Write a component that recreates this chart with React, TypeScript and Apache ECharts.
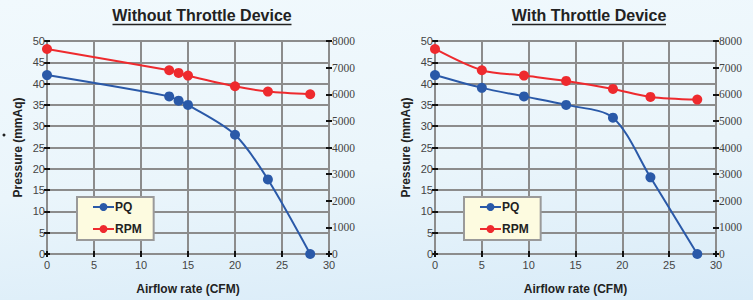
import React, { useEffect, useRef } from "react";
import * as echarts from "echarts";

const leftAirflow = [0, 13, 14, 15, 20, 23.5, 28];
const leftPQ = [42, 37, 36, 35, 28, 17.5, 0];
const leftRPM = [7700, 6900, 6800, 6700, 6300, 6100, 6000];

const rightAirflow = [0, 5, 9.5, 14, 19, 23, 28];
const rightPQ = [42, 39, 37, 35, 32, 18, 0];
const rightRPM = [7700, 6900, 6700, 6500, 6200, 5900, 5800];

const titles = ["Without Throttle Device", "With Throttle Device"];
const seriesNames = ["PQ", "RPM"];
const xName = "Airflow rate (CFM)";
const yName = "Pressure (mmAq)";

const BLUE = "#2a59a8";
const RED = "#ee2a2e";

export default function App() {
  const ref = useRef<HTMLDivElement>(null);
  useEffect(() => {
    document.body.style.margin = "0";
    const chart = echarts.init(ref.current!, null, { renderer: "svg" });
    const grids = [
      { left: 47, top: 41, width: 282, height: 216 },
      { left: 435, top: 41, width: 281, height: 216 },
    ];
    const gridLine = { show: true, lineStyle: { color: "#8c8c8c", width: 2 } };
    const xAxes = grids.map((_, i) => ({
      type: "value",
      gridIndex: i,
      min: 0,
      max: 30,
      interval: 5,
      offset: -3,
      name: xName,
      nameLocation: "middle",
      nameGap: 32,
      nameTextStyle: { fontFamily: "Liberation Sans", fontWeight: "bold", fontSize: 12, color: "#222" },
      axisLine: { show: false },
      axisTick: { show: true, length: 6, lineStyle: { color: "#111", width: 2 } },
      axisLabel: { margin: 8, lineHeight: 11, fontFamily: "Liberation Sans", fontSize: 11, color: "#444" },
      splitLine: gridLine,
    }));
    const yAxes: any[] = [];
    grids.forEach((_, i) => {
      yAxes.push({
        type: "value",
        gridIndex: i,
        position: "left",
        min: 0,
        max: 50,
        interval: 5,
        offset: -3,
        name: yName,
        nameLocation: "middle",
        nameRotate: 90,
        nameGap: 26,
        nameTextStyle: { fontFamily: "Liberation Sans", fontWeight: "bold", fontSize: 12, color: "#222" },
        axisLine: { show: false },
        axisTick: { show: true, length: 6, lineStyle: { color: "#111", width: 2 } },
        axisLabel: { margin: 5, fontFamily: "Liberation Sans", fontSize: 11, color: "#444" },
        splitLine: gridLine,
      });
      yAxes.push({
        type: "value",
        gridIndex: i,
        position: "right",
        min: 0,
        max: 8000,
        interval: 1000,
        offset: -3,
        axisLine: { show: false },
        axisTick: { show: true, length: 6, lineStyle: { color: "#111", width: 2 } },
        axisLabel: {
          margin: 6,
          lineHeight: 10,
          fontFamily: "Liberation Serif",
          fontSize: 11.5,
          color: "#444",
          formatter: (v: number) => String(v),
        },
        splitLine: { show: false },
      });
    });
    const mk = (name: string, xs: number[], ys: number[], xi: number, yi: number, color: string) => ({
      type: "line",
      name,
      xAxisIndex: xi,
      yAxisIndex: yi,
      data: xs.map((x, k) => [x, ys[k]]),
      smooth: 0.3,
      symbol: "circle",
      symbolSize: 10,
      itemStyle: { color },
      lineStyle: { color, width: 2 },
      z: 5,
    });
    const series = [
      mk(seriesNames[0], leftAirflow, leftPQ, 0, 0, BLUE),
      mk(seriesNames[1], leftAirflow, leftRPM, 0, 1, RED),
      mk(seriesNames[0], rightAirflow, rightPQ, 1, 2, BLUE),
      mk(seriesNames[1], rightAirflow, rightRPM, 1, 3, RED),
    ];
    const legendBase = {
      orient: "vertical",
      top: 197,
      backgroundColor: "#fdfbe0",
      borderColor: "#9a9a9a",
      borderWidth: 2,
      borderRadius: 0,
      padding: [4, 12, 5, 15],
      itemGap: 10,
      itemWidth: 21,
      itemHeight: 10,
      selectedMode: false,
      textStyle: { fontFamily: "Liberation Sans", fontWeight: "bold", fontSize: 12, color: "#222", padding: [0, 0, 0, -4] },
      data: seriesNames,
    };
    const titleCenters = [202, 589];
    const titleWidths = [179, 154];
    const graphic: any[] = [];
    titles.forEach((t, i) => {
      graphic.push({
        type: "text",
        x: titleCenters[i],
        y: 15,
        style: {
          text: t,
          fontFamily: "Liberation Sans",
          fontWeight: "bold",
          fontSize: 16,
          fill: "#222",
          align: "center",
          verticalAlign: "middle",
        },
      });
      graphic.push({
        type: "line",
        shape: {
          x1: titleCenters[i] - titleWidths[i] / 2,
          y1: 24.5,
          x2: titleCenters[i] + titleWidths[i] / 2,
          y2: 24.5,
        },
        style: { stroke: "#222", lineWidth: 1.5 },
      });
    });
    graphic.push({ type: "circle", shape: { cx: 4, cy: 135, r: 1.5 }, style: { fill: "#222" } });

    chart.setOption({
      animation: false,
      grid: grids,
      xAxis: xAxes,
      yAxis: yAxes,
      series,
      legend: [
        { ...legendBase, left: 77 },
        { ...legendBase, left: 464 },
      ],
      graphic,
    });
    return () => chart.dispose();
  }, []);
  return (
    <div
      ref={ref}
      style={{
        width: 753,
        height: 300,
        background: "linear-gradient(175deg, #f1f9fd 0%, #eaf5fb 55%, #d8ebf8 100%)",
      }}
    />
  );
}
